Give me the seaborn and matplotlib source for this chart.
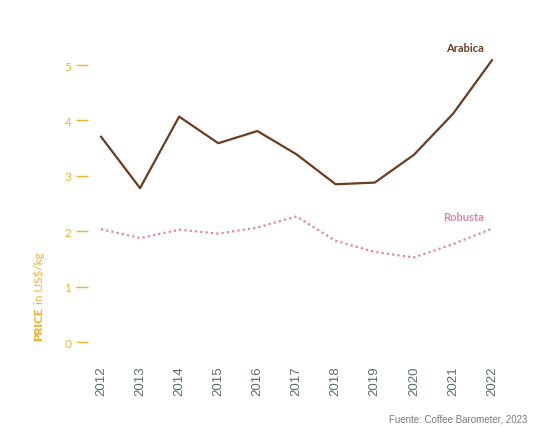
import pandas as pd
import matplotlib.pyplot as plt
import seaborn as sns


years = [2012, 2013, 2014, 2015, 2016, 2017, 2018, 2019, 2020, 2021, 2022]
arabica = [3.71, 2.78, 4.07, 3.59, 3.81, 3.39, 2.85, 2.88, 3.38, 4.12, 5.09]
robusta = [2.04, 1.88, 2.03, 1.96, 2.07, 2.27, 1.83, 1.63, 1.53, 1.77, 2.05]
y_ticks = [0, 1, 2, 3, 4, 5]

BROWN = "#6b3b22"
PINK = "#e384a3"
GOLD = "#f2b232"
SLATE = "#5c6b70"

df = pd.DataFrame({
    "year": years * 2,
    "price": arabica + robusta,
    "variety": ["Arabica"] * len(years) + ["Robusta"] * len(years),
})

sns.set_theme(style="white")
plt.rcParams["font.family"] = ["Lato", "DejaVu Sans"]

fig = plt.figure(figsize=(5.35, 4.27), dpi=100)
ax = fig.add_axes([88 / 535, 77 / 427, 417 / 535, 320 / 427])

sns.lineplot(
    data=df, x="year", y="price", hue="variety", style="variety",
    palette={"Arabica": BROWN, "Robusta": PINK},
    dashes={"Arabica": "", "Robusta": (1, 1.4)},
    linewidth=1.6, legend=False, ax=ax,
)

ax.set_xlim(2011.67, 2022.33)
ax.set_ylim(-0.121, 5.65)
for s in ax.spines.values():
    s.set_visible(False)

ax.set_yticks(y_ticks)
ax.set_yticklabels([str(v) for v in y_ticks], color=GOLD, fontsize=8.5)
ax.tick_params(axis="y", which="major", left=True, direction="out",
               length=8.6, width=1.0, color=GOLD, pad=3.5)

ax.set_xticks(years)
ax.set_xticklabels([str(y) for y in years], rotation=90, color=SLATE,
                   fontsize=9.5, family="Liberation Sans")
ax.tick_params(axis="x", bottom=False, pad=6)
ax.set_xlabel("")
ax.set_ylabel("")

# series labels
ax.text(2021.8, 5.31, "Arabica", color=BROWN, fontsize=8, fontweight="bold",
        ha="right", va="center")
ax.text(2021.8, 2.26, "Robusta", color=PINK, fontsize=8, fontweight="bold",
        ha="right", va="center")

# y axis title: bold "PRICE" followed by regular text
t1 = fig.text(39 / 535, (427 - 341) / 427, "PRICE", color=GOLD, fontsize=8.5,
              fontweight="heavy", rotation=90, ha="center", va="bottom")
fig.canvas.draw()
bb = t1.get_window_extent()
fig.text(39 / 535, (bb.y1 + 3) / 427, "in US$/kg", color=GOLD, fontsize=8.5,
         rotation=90, ha="center", va="bottom")

fig.text(527 / 535, (427 - 420) / 427, "Fuente: Coffee Barometer, 2023",
         color="#7a7a7a", fontsize=7, family="Liberation Sans",
         ha="right", va="center")

fig.savefig("out.png", dpi=100)
